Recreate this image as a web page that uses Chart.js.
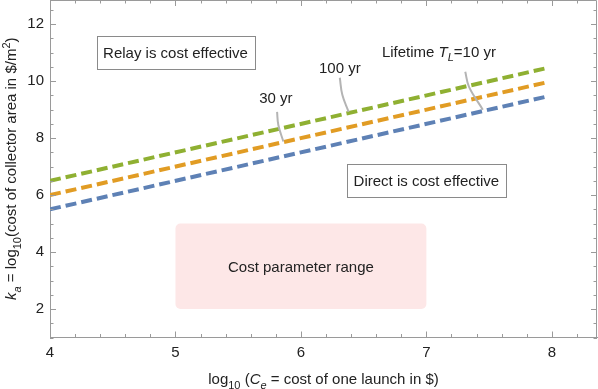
<!DOCTYPE html>
<html>
<head>
<meta charset="utf-8">
<script src="https://cdn.jsdelivr.net/npm/chart.js"></script>
<style>
  html, body { margin: 0; padding: 0; background: #fff; }
  #wrap { width: 598px; height: 389px; }
</style>
</head>
<body>
<div id="wrap"><canvas id="chart" width="598" height="389"></canvas></div>
<script>
// break-even lines, log10 launch cost vs log10 collector cost
const launchCost = [4, 7.97];
const life10 = [5.5, 9.47];
const life30 = [6.0, 9.97];
const life100 = [6.5, 10.47];

const xTicks = [4, 5, 6, 7, 8];
const yTicks = [2, 4, 6, 8, 10, 12];

// callout leader lines (data coords)
const call30 = { x: [5.81, 5.82, 5.86], y: [8.92, 8.46, 7.88] };
const call100 = { x: [6.31, 6.33, 6.38], y: [10.12, 9.52, 8.92] };
const call10 = { x: [7.31, 7.34, 7.45], y: [10.33, 9.80, 9.0] };

// cost parameter range box
const rangeX = [5, 7];
const rangeY = [2, 5];

const FONT = "'Liberation Sans', Arial, sans-serif";
const TXT = '#222';

const pts = (xs, ys) => xs.map((x, i) => ({ x: x, y: ys[i] }));

function drawRich(ctx, segs, x, y, size, align) {
    const fontFor = s => (s.italic ? 'italic ' : '') + (s.sub || s.sup ? Math.round(size * 0.7) : size) + 'px ' + FONT;
    let total = 0;
    segs.forEach(s => { ctx.font = fontFor(s); total += ctx.measureText(s.t).width; });
    let cx = align === 'center' ? x - total / 2 : x;
    ctx.textAlign = 'left';
    ctx.textBaseline = 'alphabetic';
    segs.forEach(s => {
        ctx.font = fontFor(s);
        let dy = s.sub ? size * 0.3 : s.sup ? -size * 0.4 : 0;
        ctx.fillText(s.t, cx, y + dy);
        cx += ctx.measureText(s.t).width;
    });
}

const annotPlugin = {
    id: 'annot',
    beforeDatasetsDraw(chart) {
        const ctx = chart.ctx, xs = chart.scales.x, ys = chart.scales.y;
        const l = xs.getPixelForValue(rangeX[0]), r = xs.getPixelForValue(rangeX[1]);
        const t = ys.getPixelForValue(rangeY[1]), b = ys.getPixelForValue(rangeY[0]);
        ctx.save();
        ctx.fillStyle = '#fde7e7';
        ctx.beginPath();
        ctx.roundRect(l, t, r - l, b - t, 5);
        ctx.fill();
        ctx.fillStyle = TXT;
        ctx.font = '15px ' + FONT;
        ctx.textAlign = 'center';
        ctx.textBaseline = 'middle';
        ctx.fillText('Cost parameter range', (l + r) / 2, ys.getPixelForValue(3.45));
        ctx.restore();
    },
    afterDraw(chart) {
        const ctx = chart.ctx, xs = chart.scales.x, ys = chart.scales.y;
        const a = chart.chartArea;
        ctx.save();
        // frame top/right
        ctx.strokeStyle = '#9a9a9a';
        ctx.lineWidth = 1;
        ctx.beginPath();
        ctx.moveTo(a.left, a.top + 0.5); ctx.lineTo(a.right - 0.5, a.top + 0.5); ctx.lineTo(a.right - 0.5, a.bottom);
        ctx.stroke();
        // inward ticks
        ctx.beginPath();
        for (let v = 4; v <= 8.36; v += 0.2) {
            const major = Math.abs(v - Math.round(v)) < 1e-6;
            const len = major ? 6 : 3.5;
            const px = Math.round(xs.getPixelForValue(v)) + 0.5;
            ctx.moveTo(px, a.bottom); ctx.lineTo(px, a.bottom - len);
            ctx.moveTo(px, a.top); ctx.lineTo(px, a.top + len);
        }
        for (let v = 1; v <= 12.85; v += 0.5) {
            const major = Math.abs(v - Math.round(v)) < 1e-6 && Math.round(v) % 2 === 0;
            const len = major ? 6 : 3.5;
            const py = Math.round(ys.getPixelForValue(v)) + 0.5;
            ctx.moveTo(a.left, py); ctx.lineTo(a.left + len, py);
            ctx.moveTo(a.right, py); ctx.lineTo(a.right - len, py);
        }
        ctx.stroke();

        // text boxes
        const box = (text, xv, yv) => {
            ctx.font = '15px ' + FONT;
            const w = ctx.measureText(text).width + 13, h = 33;
            const cx = xs.getPixelForValue(xv), cy = ys.getPixelForValue(yv);
            ctx.fillStyle = '#fff';
            ctx.fillRect(cx - w / 2, cy - h / 2, w, h);
            ctx.strokeStyle = '#8a8a8a';
            ctx.strokeRect(Math.round(cx - w / 2) + 0.5, Math.round(cy - h / 2) + 0.5, Math.round(w), h);
            ctx.fillStyle = TXT;
            ctx.textAlign = 'center';
            ctx.textBaseline = 'middle';
            ctx.fillText(text, cx, cy + 1);
        };
        box('Relay is cost effective', 5.0, 11.0);
        box('Direct is cost effective', 7.0, 6.5);

        // callout labels
        ctx.fillStyle = TXT;
        drawRich(ctx, [{ t: '30 yr' }], xs.getPixelForValue(5.80), ys.getPixelForValue(9.25), 15, 'center');
        drawRich(ctx, [{ t: '100 yr' }], xs.getPixelForValue(6.31), ys.getPixelForValue(10.3), 15, 'center');
        drawRich(ctx, [{ t: 'Lifetime ' }, { t: 'T', italic: true }, { t: 'L', italic: true, sub: true }, { t: '=10 yr' }],
            xs.getPixelForValue(7.10), ys.getPixelForValue(10.86), 15, 'center');

        // axis titles
        drawRich(ctx, [{ t: 'log' }, { t: '10', sub: true }, { t: ' (' }, { t: 'C', italic: true }, { t: 'e', italic: true, sub: true },
            { t: ' = cost of one launch in $)' }], (a.left + a.right) / 2, 384, 15, 'center');
        ctx.translate(16, (a.top + a.bottom) / 2);
        ctx.rotate(-Math.PI / 2);
        drawRich(ctx, [{ t: 'k', italic: true }, { t: 'a', italic: true, sub: true }, { t: ' = log' }, { t: '10', sub: true },
            { t: '(cost of collector area in $/m' }, { t: '2', sup: true }, { t: ')' }], 0, 0, 15, 'center');
        ctx.restore();
    }
};

const dashed = (data, color) => ({
    data: data, borderColor: color, borderWidth: 4, borderDash: [11, 5],
    borderCapStyle: 'butt', pointRadius: 0, showLine: true, fill: false
});
const leader = data => ({
    data: data, borderColor: '#b4b4b4', borderWidth: 2, pointRadius: 0,
    showLine: true, fill: false, tension: 0.4
});

new Chart(document.getElementById('chart'), {
    type: 'scatter',
    data: {
        datasets: [
            leader(pts(call30.x, call30.y)),
            leader(pts(call100.x, call100.y)),
            leader(pts(call10.x, call10.y)),
            dashed(pts(launchCost, life100), '#8fb032'),
            dashed(pts(launchCost, life30), '#e19c24'),
            dashed(pts(launchCost, life10), '#5e81b5')
        ]
    },
    plugins: [annotPlugin],
    options: {
        responsive: false,
        animation: false,
        layout: { padding: { top: 0, right: 1, left: 0, bottom: 0 } },
        plugins: { legend: { display: false }, tooltip: { enabled: false } },
        scales: {
            x: {
                type: 'linear', min: 4, max: 8.36,
                afterBuildTicks: s => { s.ticks = xTicks.map(v => ({ value: v })); },
                afterFit: s => { s.height = 51.5; s.paddingLeft = 0; s.paddingRight = 0; },
                grid: { display: false, drawTicks: false },
                border: { display: true, color: '#9a9a9a' },
                ticks: { color: TXT, font: { family: FONT, size: 15 }, padding: 6, maxRotation: 0 }
            },
            y: {
                type: 'linear', min: 1, max: 12.85,
                afterBuildTicks: s => { s.ticks = yTicks.map(v => ({ value: v })); },
                afterFit: s => { s.width = 50; s.paddingTop = 0; s.paddingBottom = 0; },
                grid: { display: false, drawTicks: false },
                border: { display: true, color: '#9a9a9a' },
                ticks: { color: TXT, font: { family: FONT, size: 15 }, padding: 6 }
            }
        }
    }
});
</script>
</body>
</html>
